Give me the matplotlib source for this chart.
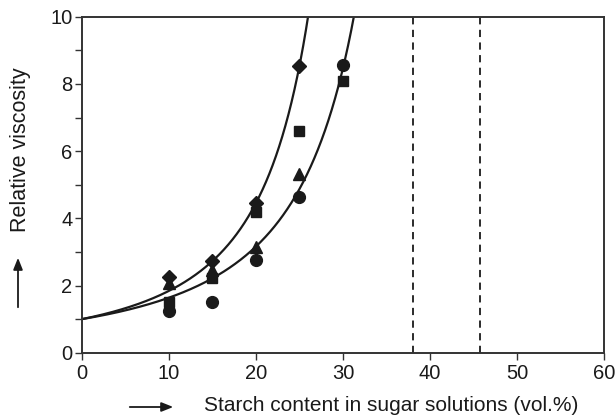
import numpy as np
import matplotlib.pyplot as plt
from matplotlib.ticker import MultipleLocator

plt.rcParams['font.family'] = ['Liberation Sans', 'DejaVu Sans']

# measured relative viscosities at each starch content
diamond_x = [10, 15, 20, 25]
diamond_y = [2.24, 2.74, 4.45, 8.54]
square_x = [10, 15, 20, 25, 30]
square_y = [1.52, 2.21, 4.20, 6.61, 8.10]
triangle_x = [10, 15, 20, 25]
triangle_y = [2.06, 2.46, 3.15, 5.31]
circle_x = [10, 15, 20, 25, 30]
circle_y = [1.25, 1.52, 2.76, 4.64, 8.56]

# Krieger-Dougherty fits: eta = (1 - phi/phi_max)^-exponent
phi_max = [38.0, 45.7]
exponent = 2.0

fig = plt.figure(figsize=(6.16, 4.19), dpi=100)
ax = fig.add_axes([0.1331, 0.1582, 0.8474, 0.8019])

for m in phi_max:
    phi = np.linspace(0, m * 0.999, 2000)
    eta = (1 - phi / m) ** -exponent
    ax.plot(phi, eta, color='#1a1a1a', lw=1.6, zorder=2)
    ax.axvline(m, color='#1a1a1a', lw=1.3, ls=(0, (4, 3)), zorder=1)

mk = dict(color='#1a1a1a', ls='none', zorder=3)
ax.plot(diamond_x, diamond_y, marker='D', ms=7, **mk)
ax.plot(square_x, square_y, marker='s', ms=7.5, **mk)
ax.plot(triangle_x, triangle_y, marker='^', ms=8.5, **mk)
ax.plot(circle_x, circle_y, marker='o', ms=8.5, **mk)

ax.set_xlim(0, 60)
ax.set_ylim(0, 10)
ax.xaxis.set_major_locator(MultipleLocator(10))
ax.yaxis.set_major_locator(MultipleLocator(2))
ax.yaxis.set_minor_locator(MultipleLocator(1))
ax.tick_params(axis='both', which='both', direction='out', length=5,
               width=1.0, color='#333333', labelsize=14.5, labelcolor='#1a1a1a')
ax.tick_params(axis='x', pad=3)
ax.tick_params(axis='y', pad=2)
for s in ax.spines.values():
    s.set_color('#333333')
    s.set_linewidth(1.4)

fig.text(0.0325, 0.642, 'Relative viscosity', rotation=90, ha='center',
         va='center', fontsize=15.5, color='#1a1a1a')
fig.text(0.331, 0.033, 'Starch content in sugar solutions (vol.%)',
         ha='left', va='center', fontsize=15, color='#1a1a1a')

arrow = dict(arrowstyle='-|>,head_length=0.7,head_width=0.28', color='#1a1a1a', lw=1.3)
ax.annotate('', xy=(18 / 616, 1 - 255 / 419), xytext=(18 / 616, 1 - 310 / 419),
            xycoords='figure fraction', arrowprops=arrow)
ax.annotate('', xy=(176 / 616, 1 - 407 / 419), xytext=(127 / 616, 1 - 407 / 419),
            xycoords='figure fraction', arrowprops=arrow)

fig.savefig('out.png', dpi=100)
